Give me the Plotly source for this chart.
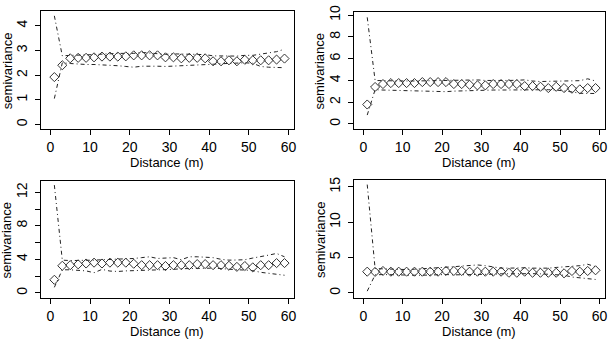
import plotly.graph_objects as go

distance = list(range(1, 60, 2))

p1_semiv = [1.92, 2.4, 2.68, 2.7, 2.7, 2.72, 2.75, 2.75, 2.75, 2.76, 2.8, 2.8, 2.8, 2.8, 2.72,
            2.72, 2.68, 2.7, 2.7, 2.68, 2.56, 2.56, 2.6, 2.56, 2.62, 2.6, 2.6, 2.6, 2.63, 2.67]
p1_upper = [4.4, 2.78, 2.8, 2.8, 2.82, 2.83, 2.85, 2.87, 2.88, 2.88, 2.88, 2.92, 2.9, 2.86, 2.84,
            2.86, 2.86, 2.85, 2.84, 2.83, 2.78, 2.77, 2.77, 2.77, 2.8, 2.8, 2.85, 2.9, 2.95, 3.05]
p1_lower = [1.05, 2.5, 2.47, 2.44, 2.43, 2.43, 2.42, 2.4, 2.38, 2.35, 2.32, 2.36, 2.37, 2.36, 2.35,
            2.36, 2.38, 2.38, 2.4, 2.42, 2.44, 2.46, 2.48, 2.5, 2.5, 2.48, 2.35, 2.32, 2.3, 2.3]

p2_semiv = [1.79, 3.4, 3.67, 3.76, 3.76, 3.76, 3.76, 3.85, 3.85, 3.85, 3.85, 3.67, 3.67, 3.6, 3.55,
            3.55, 3.67, 3.67, 3.67, 3.67, 3.48, 3.48, 3.42, 3.3, 3.42, 3.3, 3.24, 3.18, 3.3, 3.3]
p2_upper = [9.8, 4.0, 3.98, 3.95, 3.95, 3.95, 3.95, 3.97, 4.0, 4.0, 4.0, 4.0, 4.03, 4.05, 4.05,
            4.0, 3.98, 3.97, 4.0, 4.02, 4.05, 3.95, 3.9, 3.92, 3.95, 3.95, 3.95, 3.98, 4.15, 3.95]
p2_lower = [0.82, 3.15, 3.12, 3.1, 3.08, 3.08, 3.07, 3.07, 3.06, 3.05, 2.97, 3.02, 3.05, 3.08, 3.1,
            3.1, 3.12, 3.12, 3.13, 3.15, 3.16, 3.18, 3.2, 3.15, 3.12, 3.05, 2.95, 2.82, 2.8, 2.8]

p3_semiv = [1.56, 3.23, 3.3, 3.4, 3.5, 3.6, 3.5, 3.6, 3.6, 3.6, 3.47, 3.3, 3.3, 3.3, 3.2,
            3.3, 3.3, 3.3, 3.43, 3.43, 3.3, 3.3, 3.23, 3.1, 3.2, 3.04, 3.3, 3.3, 3.55, 3.55]
p3_upper = [12.85, 3.9, 3.85, 3.85, 3.85, 3.9, 3.95, 3.97, 4.0, 4.05, 4.1, 4.2, 4.3, 4.1, 4.15,
            4.2, 3.95, 4.3, 4.3, 4.25, 4.2, 4.0, 3.9, 3.92, 3.95, 4.15, 4.3, 4.5, 4.7, 4.3]
p3_lower = [0.66, 2.75, 2.75, 2.7, 2.62, 2.4, 2.8, 2.6, 2.55, 2.62, 2.65, 2.65, 2.65, 2.7, 2.75,
            2.8, 2.88, 2.9, 2.92, 2.95, 2.95, 2.9, 2.8, 2.75, 2.72, 2.65, 2.45, 2.35, 2.25, 2.1]

p4_semiv = [3.0, 2.97, 3.1, 3.0, 3.0, 3.0, 3.0, 3.0, 3.0, 3.0, 3.1, 3.1, 3.1, 3.0, 3.0,
            3.0, 3.0, 3.0, 2.85, 2.85, 3.0, 2.85, 2.85, 2.85, 2.85, 2.77, 3.1, 3.0, 3.1, 3.2]
p4_upper = [15.3, 3.45, 3.4, 3.35, 3.3, 3.3, 3.35, 3.4, 3.5, 3.6, 3.65, 3.7, 3.8, 3.9, 3.95,
            3.85, 3.65, 3.5, 3.5, 3.55, 3.55, 3.5, 3.45, 3.5, 3.6, 3.65, 3.7, 3.85, 4.05, 3.7]
p4_lower = [0.25, 2.55, 2.6, 2.55, 2.5, 2.45, 2.5, 2.5, 2.55, 2.6, 2.6, 2.55, 2.55, 2.58, 2.6,
            2.62, 2.65, 2.7, 2.72, 2.75, 2.75, 2.72, 2.7, 2.65, 2.6, 2.5, 2.25, 2.15, 2.0, 1.9]

x_ticks = [0, 10, 20, 30, 40, 50, 60]
p1_yticks = [0, 1, 2, 3, 4]
p1_ylabels = ["0", "1", "2", "3", "4"]
p2_yticks = [0, 2, 4, 6, 8, 10]
p2_ylabels = ["0", "2", "4", "6", "8", "10"]
p3_yticks = [0, 2, 4, 6, 8, 10, 12]
p3_ylabels = ["0", "", "4", "", "8", "", "12"]
p4_yticks = [0, 5, 10, 15]
p4_ylabels = ["0", "5", "10", "15"]

W, H = 609, 340
FONT = "Liberation Sans, Arial, sans-serif"

panels = [
    dict(semiv=p1_semiv, up=p1_upper, lo=p1_lower, yt=p1_yticks, yl=p1_ylabels,
         yr=[-0.2, 4.6], px=(41, 295), py=(4, 125)),
    dict(semiv=p2_semiv, up=p2_upper, lo=p2_lower, yt=p2_yticks, yl=p2_ylabels,
         yr=[-0.5, 10.3], px=(355, 607), py=(5, 125)),
    dict(semiv=p3_semiv, up=p3_upper, lo=p3_lower, yt=p3_yticks, yl=p3_ylabels,
         yr=[-0.6, 13.3], px=(41, 295), py=(178, 297)),
    dict(semiv=p4_semiv, up=p4_upper, lo=p4_lower, yt=p4_yticks, yl=p4_ylabels,
         yr=[-0.7, 15.9], px=(355, 607), py=(177, 297)),
]

fig = go.Figure()
layout = {}
annotations = []
for i, p in enumerate(panels, start=1):
    xa = "x" if i == 1 else f"x{i}"
    ya = "y" if i == 1 else f"y{i}"
    line = dict(color="#222222", width=1, dash="4px,3px,1px,3px")
    fig.add_trace(go.Scatter(x=distance, y=p["up"], mode="lines", line=line,
                             xaxis=xa, yaxis=ya, showlegend=False))
    fig.add_trace(go.Scatter(x=distance, y=p["lo"], mode="lines", line=line,
                             xaxis=xa, yaxis=ya, showlegend=False))
    fig.add_trace(go.Scatter(x=distance, y=p["semiv"], mode="markers",
                             marker=dict(symbol="diamond-open", size=7,
                                         color="#333333", line=dict(width=1, color="#333333")),
                             xaxis=xa, yaxis=ya, showlegend=False))
    x0, x1 = p["px"]
    y0, y1 = p["py"]
    xdom = [x0 / W, x1 / W]
    ydom = [1 - y1 / H, 1 - y0 / H]
    axcommon = dict(showline=True, linecolor="black", linewidth=1, mirror=True,
                    showgrid=False, zeroline=False, ticks="outside", ticklen=5,
                    tickcolor="black", tickwidth=1,
                    tickfont=dict(family=FONT, size=14, color="black"))
    layout[f"xaxis{'' if i == 1 else i}"] = dict(
        domain=xdom, range=[-2.4, 61.4], tickvals=x_ticks,
        ticktext=[str(v) for v in x_ticks], anchor=ya, ticklabelstandoff=0, **axcommon)
    layout[f"yaxis{'' if i == 1 else i}"] = dict(
        domain=ydom, range=p["yr"], tickvals=p["yt"], ticktext=p["yl"],
        tickangle=-90, anchor=xa, ticklabelstandoff=2, **axcommon)
    annotations.append(dict(text="Distance (m)", x=(x0 + x1) / 2 / W, y=1 - (y1 + 34) / H,
                            xref="paper", yref="paper", showarrow=False,
                            xanchor="center", yanchor="middle",
                            font=dict(family=FONT, size=13, color="black")))
    annotations.append(dict(text="semivariance", x=(x0 - 34) / W, y=1 - (y0 + y1) / 2 / H,
                            xref="paper", yref="paper", showarrow=False, textangle=-90,
                            xanchor="center", yanchor="middle",
                            font=dict(family=FONT, size=13, color="black")))

fig.update_layout(width=W, height=H, margin=dict(l=0, r=0, t=0, b=0),
                  paper_bgcolor="white", plot_bgcolor="white",
                  annotations=annotations, **layout)
fig.write_html("out.html", config={"displayModeBar": False},
               post_script="document.body.style.margin='0';")
